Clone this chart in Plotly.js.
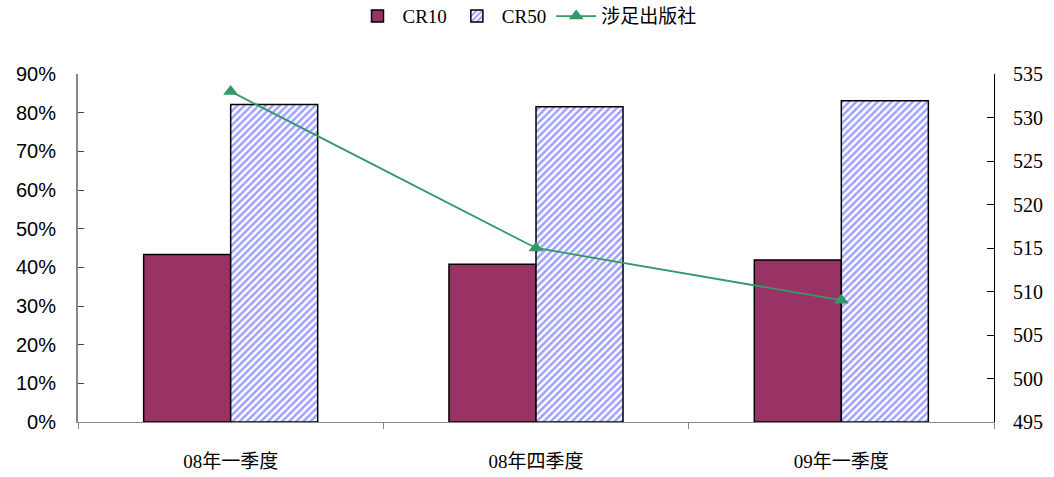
<!DOCTYPE html>
<html><head><meta charset="utf-8">
<script src="https://cdn.plot.ly/plotly-3.0.1.min.js"></script>
<style>html,body{margin:0;padding:0;background:#fff}#chart{width:1054px;height:477px}</style>
</head><body><div id="chart"></div>
<script>
const categories = ["08年一季度", "08年四季度", "09年一季度"];
const cr10 = [0.433, 0.408, 0.419];
const cr50 = [0.821, 0.815, 0.831];
const publishers = [533, 515, 509];
const leftTicks = [0, 0.1, 0.2, 0.3, 0.4, 0.5, 0.6, 0.7, 0.8, 0.9];
const rightTicks = [495, 500, 505, 510, 515, 520, 525, 530, 535];

const serif = "'Liberation Serif', 'Noto Sans CJK SC', serif";
const traces = [
  {type: "bar", name: "CR10", x: categories, y: cr10,
   marker: {color: "#993366", line: {color: "#000", width: 1.5}}},
  {type: "bar", name: "CR50", x: categories, y: cr50,
   marker: {color: "#ffffff", line: {color: "#000", width: 1.5},
     pattern: {shape: "/", fgcolor: "#a0a0ff", bgcolor: "#ffffff", size: 5, solidity: 0.5}}},
  {type: "scatter", mode: "lines+markers", name: "涉足出版社", x: categories, y: publishers,
   yaxis: "y2", line: {color: "#339966", width: 1.8},
   marker: {symbol: "triangle-up", size: 13, color: "#339966"}}
];
const layout = {
  width: 1054, height: 477,
  margin: {l: 78, r: 60, t: 74, b: 55},
  paper_bgcolor: "#fff", plot_bgcolor: "#fff",
  barmode: "group", bargap: 0.43, bargroupgap: 0,
  showlegend: true,
  legend: {orientation: "h", x: 0.5, xanchor: "center", xref: "container",
    y: 0.966, yanchor: "middle", yref: "container",
    font: {family: serif, size: 19, color: "#000"}, traceorder: "normal", itemwidth: 40},
  xaxis: {showline: true, linecolor: "#888", linewidth: 1, ticks: "outside", tickson: "boundaries",
    ticklen: 6, tickcolor: "#888", showgrid: false, ticklabelstandoff: 22,
    tickfont: {family: serif, size: 19, color: "#000"}},
  yaxis: {range: [0, 0.9], tickvals: leftTicks, tickformat: ".0%", showgrid: false, zeroline: false,
    showline: true, linecolor: "#888", linewidth: 2, ticks: "inside", ticklen: 6, tickcolor: "#444",
    ticklabelstandoff: 16,
    tickfont: {family: "'Liberation Sans', Arial, sans-serif", size: 20, color: "#000"}},
  yaxis2: {overlaying: "y", side: "right", range: [495, 535], tickvals: rightTicks, showgrid: false,
    zeroline: false, showline: true, linecolor: "#000", linewidth: 1, ticks: "inside", ticklen: 7,
    tickcolor: "#000", ticklabelstandoff: 14, tickfont: {family: serif, size: 20, color: "#000"}}
};
Plotly.newPlot("chart", traces, layout, {displayModeBar: false});
</script></body></html>
